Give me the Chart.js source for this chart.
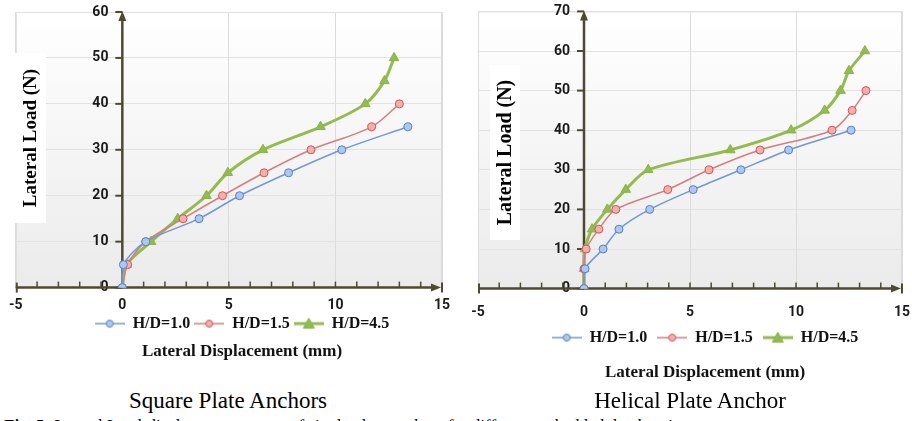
<!DOCTYPE html>
<html>
<head>
<meta charset="utf-8">
<title>Lateral load - displacement</title>
<script src="https://cdn.jsdelivr.net/npm/chart.js@4.4.0/dist/chart.umd.min.js"></script>
<style>
    html, body { margin: 0; padding: 0; background: #fff; }
    body { width: 912px; height: 421px; overflow: hidden; position: relative; }
    canvas { position: absolute; top: 0; }
    #chartSquare { left: 0; }
    #chartHelical { left: 456px; }
    .caption {
        position: absolute; top: 389px; font-family: "Liberation Serif", serif;
        font-size: 23px; line-height: 23px; color: #000; white-space: nowrap;
        transform: translateX(-50%);
    }
    #figLine {
        position: absolute; left: 4px; top: 417px; font-family: "Liberation Serif", serif;
        font-size: 17px; line-height: 17px; color: #000; white-space: nowrap;
    }
</style>
</head>
<body>
<canvas id="chartSquare" width="480" height="372"></canvas>
<canvas id="chartHelical" width="480" height="390"></canvas>
<div class="caption" style="left:228px">Square Plate Anchors</div>
<div class="caption" style="left:690px">Helical Plate Anchor</div>
<div id="figLine"><b>Fig. 5:</b> Lateral Load-displacement curves of single plate anchors for different embedded depth ratios</div>

<script>
// ============== DATA ==============

const seriesLabels = ['H/D=1.0', 'H/D=1.5', 'H/D=4.5'];
const xTickLabels = [-5, 0, 5, 10, 15];

// Square plate anchors - displacement (mm) / load (N)
const sqDisp10 = [0, 0.05, 1.1, 3.6, 5.5, 7.8, 10.3, 13.4];
const sqLoad10 = [0, 5, 10, 15, 20, 25, 30, 35];
const sqDisp15 = [0, 0.25, 1.1, 2.85, 4.7, 6.65, 8.85, 11.7, 13.0];
const sqLoad15 = [0, 5, 10, 15, 20, 25, 30, 35, 40];
const sqDisp45 = [0, 0.2, 1.35, 2.6, 3.95, 4.95, 6.6, 9.3, 11.4, 12.3, 12.75];
const sqLoad45 = [0, 5, 10, 15, 20, 25, 30, 35, 40, 45, 50];
const sqYTicks = [0, 10, 20, 30, 40, 50, 60];

// Helical plate anchor
const heDisp10 = [0, 0.05, 0.9, 1.65, 3.1, 5.15, 7.4, 9.65, 12.6];
const heLoad10 = [0, 5, 10, 15, 20, 25, 30, 35, 40];
const heDisp15 = [0, 0, 0.1, 0.7, 1.5, 3.95, 5.9, 8.3, 11.7, 12.65, 13.3];
const heLoad15 = [0, 5, 10, 15, 20, 25, 30, 35, 40, 45, 50];
const heDisp45 = [0, 0, 0.05, 0.38, 1.1, 1.97, 3.03, 6.9, 9.77, 11.35, 12.1, 12.5, 13.25];
const heLoad45 = [0, 5, 10, 15, 20, 25, 30, 35, 40, 45, 50, 55, 60];
const heYTicks = [0, 10, 20, 30, 40, 50, 60, 70];

// ============== STYLE ==============

const AXIS_COLOR = '#4e4a30';
const TICK_FONT = { family: 'Roboto', size: 14, weight: 'bold' };
const SERIF = '"Liberation Serif", serif';

const seriesStyle = [
    { line: '#7099d4', border: '#5582c4', fill: '#adc7ef', shape: 'circle', width: 1.5, radius: 4 },
    { line: '#d67e7b', border: '#c85a57', fill: '#f5aeac', shape: 'circle', width: 1.5, radius: 4 },
    { line: '#93bb50', border: '#8ab446', fill: '#93bb50', shape: 'triangle', width: 3, radius: 5.5 }
];

// ============== HELPERS ==============

function toPoints(xs, ys) {
    return xs.map((v, i) => ({ x: v, y: ys[i] }));
}

/**
 * Small canvas used as legend symbol: line with a marker in the middle
 */
function makeLegendIcon(st) {
    const c = document.createElement('canvas');
    c.width = 30; c.height = 12;
    const g = c.getContext('2d');
    g.strokeStyle = st.line;
    g.lineWidth = st.width;
    g.beginPath(); g.moveTo(0, 6); g.lineTo(30, 6); g.stroke();
    g.fillStyle = st.fill;
    g.strokeStyle = st.border;
    g.lineWidth = 1;
    g.beginPath();
    if (st.shape === 'circle') {
        g.arc(15, 6, 3.5, 0, Math.PI * 2);
    } else {
        g.moveTo(15, 0.5); g.lineTo(20.5, 10.5); g.lineTo(9.5, 10.5); g.closePath();
    }
    g.fill(); g.stroke();
    return c;
}

const legendIcons = seriesStyle.map(makeLegendIcon);

function makeDataset(i, pts) {
    const st = seriesStyle[i];
    return {
        label: seriesLabels[i],
        data: pts,
        showLine: true,
        borderColor: st.line,
        borderWidth: st.width,
        tension: 0.3,
        pointStyle: st.shape,
        pointRadius: st.radius,
        pointBackgroundColor: st.fill,
        pointBorderColor: st.border,
        pointBorderWidth: 1
    };
}

// ============== PLUGIN: plot box, axes with arrows, y title ==============

const framePlugin = {
    id: 'frame',
    beforeDraw(chart) {
        const { ctx, chartArea: a } = chart;
        const grad = ctx.createLinearGradient(0, a.top, 0, a.bottom);
        grad.addColorStop(0, '#ffffff');
        grad.addColorStop(1, '#ebebeb');
        ctx.save();
        ctx.fillStyle = grad;
        ctx.fillRect(a.left, a.top, a.right - a.left, a.bottom - a.top);
        ctx.strokeStyle = '#dadada';
        ctx.lineWidth = 1;
        ctx.strokeRect(a.left + 0.5, a.top + 0.5, a.right - a.left - 1, a.bottom - a.top - 1);
        ctx.restore();
    },
    beforeDatasetsDraw(chart, args, opts) {
        const { ctx } = chart;
        const xs = chart.scales.x, ys = chart.scales.y;
        const x0 = xs.getPixelForValue(0);
        const y0 = ys.getPixelForValue(0);
        const yTop = ys.getPixelForValue(ys.max);
        const xL = xs.getPixelForValue(xs.min);
        const xR = xs.getPixelForValue(xs.max);

        ctx.save();

        // y title in a white box
        const b = opts.titleBox;
        ctx.fillStyle = '#fff';
        ctx.fillRect(b[0], b[1], b[2], b[3]);
        ctx.translate(b[0] + b[2] / 2, b[1] + b[3] / 2);
        ctx.rotate(-Math.PI / 2);
        ctx.fillStyle = '#000';
        ctx.font = 'bold ' + opts.titleSize + 'px ' + SERIF;
        ctx.textAlign = 'center';
        ctx.textBaseline = 'middle';
        ctx.fillText(opts.yTitle, 0, 1);
        ctx.setTransform(1, 0, 0, 1, 0, 0);

        ctx.strokeStyle = AXIS_COLOR;
        ctx.fillStyle = AXIS_COLOR;
        ctx.lineWidth = 2.5;

        // y axis + arrow
        ctx.beginPath(); ctx.moveTo(x0, y0); ctx.lineTo(x0, yTop + 6); ctx.stroke();
        ctx.beginPath();
        ctx.moveTo(x0, yTop - 1); ctx.lineTo(x0 - 4, yTop + 9); ctx.lineTo(x0 + 4, yTop + 9);
        ctx.closePath(); ctx.fill();

        // y major ticks
        ctx.lineWidth = 2;
        ys.ticks.forEach(t => {
            const p = ys.getPixelForValue(t.value);
            ctx.beginPath(); ctx.moveTo(x0 - 7, p); ctx.lineTo(x0, p); ctx.stroke();
        });

        // x axis + arrow
        ctx.lineWidth = 2.5;
        ctx.beginPath(); ctx.moveTo(xL, y0); ctx.lineTo(xR - 6, y0); ctx.stroke();
        ctx.beginPath();
        ctx.moveTo(xR - 1, y0); ctx.lineTo(xR - 11, y0 - 4); ctx.lineTo(xR - 11, y0 + 4);
        ctx.closePath(); ctx.fill();
        ctx.lineWidth = 2;
        ctx.beginPath(); ctx.moveTo(xR, y0 - 5); ctx.lineTo(xR, y0 + 5); ctx.stroke();
        ctx.beginPath(); ctx.moveTo(xL + 1, y0 - 5); ctx.lineTo(xL + 1, y0 + 5); ctx.stroke();

        // x minor ticks every 1 mm
        ctx.lineWidth = 1.5;
        for (let v = xs.min + 1; v < xs.max; v++) {
            const p = xs.getPixelForValue(v);
            ctx.beginPath(); ctx.moveTo(p, y0 - 6); ctx.lineTo(p, y0); ctx.stroke();
        }
        ctx.restore();
    }
};

// ============== CHART BUILDER ==============

function buildChart(canvasId, datasets, yTicks, cfg) {
    const ctx = document.getElementById(canvasId).getContext('2d');
    return new Chart(ctx, {
        type: 'scatter',
        data: { datasets: datasets },
        plugins: [framePlugin],
        options: {
            responsive: false,
            animation: false,
            layout: { padding: cfg.padding },
            scales: {
                x: {
                    type: 'linear',
                    position: 'bottom',
                    min: xTickLabels[0],
                    max: xTickLabels[xTickLabels.length - 1],
                    afterBuildTicks: s => { s.ticks = xTickLabels.map(v => ({ value: v })); },
                    ticks: { font: TICK_FONT, color: '#1a1a1a', padding: cfg.xTickPad },
                    grid: { color: '#dcdcdc', drawTicks: false },
                    border: { display: false },
                    afterFit: s => { s.height = cfg.xAxisHeight; }
                },
                y: {
                    type: 'linear',
                    position: { x: 0 },
                    min: yTicks[0],
                    max: yTicks[yTicks.length - 1],
                    afterBuildTicks: s => { s.ticks = yTicks.map(v => ({ value: v })); },
                    ticks: {
                        font: TICK_FONT, color: '#1a1a1a',
                        callback: v => v + '    '
                    },
                    grid: { color: '#e2e2e2', drawTicks: false },
                    border: { display: false }
                },
                // empty axis, only reserves room on the right so legend/title sit where they should
                spacer: {
                    type: 'linear',
                    position: 'right',
                    ticks: { display: false },
                    grid: { display: false },
                    border: { display: false },
                    afterFit: s => { s.width = cfg.spacer; }
                }
            },
            plugins: {
                frame: { yTitle: 'Lateral Load (N)', titleBox: cfg.titleBox, titleSize: cfg.titleSize },
                legend: {
                    position: 'bottom',
                    labels: {
                        usePointStyle: true,
                        pointStyleWidth: 30,
                        padding: cfg.legendPad,
                        color: '#111',
                        font: { family: SERIF, size: 16, weight: 'bold' },
                        generateLabels: chart => {
                            const items = Chart.defaults.plugins.legend.labels.generateLabels(chart);
                            items.forEach((it, i) => { it.pointStyle = legendIcons[i]; });
                            return items;
                        }
                    }
                },
                title: {
                    display: true,
                    position: 'bottom',
                    text: 'Lateral Displacement (mm)',
                    color: '#111',
                    font: { family: SERIF, size: 17, weight: 'bold' },
                    padding: { top: cfg.titleTop, bottom: 0 }
                },
                tooltip: { enabled: false }
            }
        }
    });
}

// ============== INIT ==============

buildChart('chartSquare', [
    makeDataset(0, toPoints(sqDisp10, sqLoad10)),
    makeDataset(1, toPoints(sqDisp15, sqLoad15)),
    makeDataset(2, toPoints(sqDisp45, sqLoad45))
], sqYTicks, {
    padding: { left: 15, right: 11, top: 12, bottom: 10 },
    spacer: 27,
    xTickPad: 9,
    xAxisHeight: 24,
    legendPad: 4,
    titleTop: 0,
    titleBox: [15, 53, 31, 170],
    titleSize: 19
});

buildChart('chartHelical', [
    makeDataset(0, toPoints(heDisp10, heLoad10)),
    makeDataset(1, toPoints(heDisp15, heLoad15)),
    makeDataset(2, toPoints(heDisp45, heLoad45))
], heYTicks, {
    padding: { left: 22, right: 4, top: 11, bottom: 7 },
    spacer: 30,
    xTickPad: 15,
    xAxisHeight: 31,
    legendPad: 10,
    titleTop: 7,
    titleBox: [34, 65, 30, 175],
    titleSize: 20
});
</script>
</body>
</html>
